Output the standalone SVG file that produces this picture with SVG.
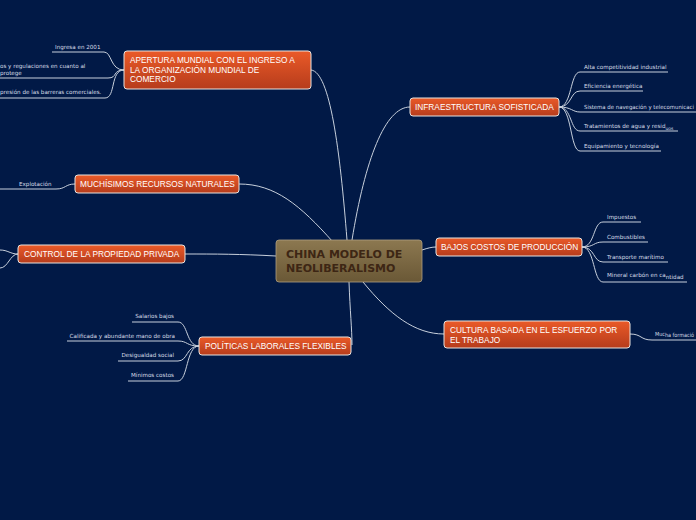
<svg xmlns="http://www.w3.org/2000/svg" width="696" height="520" viewBox="0 0 696 520">
<style>
.n rect{fill:url(#og);stroke:#e8e4e0;stroke-width:1}
.n text{font-family:"Liberation Sans",Arial,sans-serif;font-size:8.3px;fill:#ffffff}
.c path{fill:none;stroke:#c8d0dc;stroke-width:1}
.l{font-family:"DejaVu Sans",Verdana,sans-serif;font-size:5.6px;fill:#d8dee8}
.le{text-anchor:end}
</style>
<defs>
<linearGradient id="og" x1="0" y1="0" x2="0" y2="1"><stop offset="0" stop-color="#ea5a28"/><stop offset="1" stop-color="#b63c1c"/></linearGradient>
<linearGradient id="bg" x1="0" y1="0" x2="0" y2="1"><stop offset="0" stop-color="#8c7850"/><stop offset="1" stop-color="#6a5836"/></linearGradient>
</defs>
<rect width="696" height="520" fill="#011946"/>
<g class="c" id="connectors">
<path d="M347 240 C340 150 330 72 311 70"/>
<path d="M352 240 C365 160 385 107 410 107"/>
<path d="M333 242 C300 205 275 184 239 184"/>
<path d="M276 256 C240 254 215 254 185 254"/>
<path d="M422 250 C428 248 432 247 436 247"/>
<path d="M363 282 C390 315 415 334 444 334"/>
<path d="M349 282 C350 310 352 330 352 345"/>
<path d="M124 70 C110 70 112 52 104 52 L52 52"/>
<path d="M124 70 C112 70 118 78 108 78 L0 78"/>
<path d="M124 70 C110 70 116 98 105 98 L0 98"/>
<path d="M559 107 C572 107 570 72 580 72 L668 72"/>
<path d="M559 107 C572 107 570 91 580 91 L643 91"/>
<path d="M559 107 C572 107 572 112 580 112 L696 112"/>
<path d="M559 107 C572 107 570 131 580 131 L678 131"/>
<path d="M559 107 C572 107 570 151 580 151 L661 151"/>
<path d="M582 247 C595 247 593 222 603 222 L641 222"/>
<path d="M582 247 C595 247 593 242 603 242 L648 242"/>
<path d="M582 247 C595 247 593 262 603 262 L668 262"/>
<path d="M582 247 C595 247 593 282 603 282 L687 282"/>
<path d="M630 334 C642 334 640 340 652 340 L696 340"/>
<path d="M75 184 C65 184 66 189 56 189 L0 189"/>
<path d="M18 254 C10 254 8 250 0 250"/>
<path d="M18 254 C10 254 8 268 0 268"/>
<path d="M199 346 C186 346 188 322 178 322 L132 322"/>
<path d="M199 346 C186 346 188 341 178 341 L67 341"/>
<path d="M199 346 C186 346 188 361 178 361 L118 361"/>
<path d="M199 346 C186 346 188 381 178 381 L128 381"/>
</g>
<g id="center">
<rect x="276" y="240" width="146" height="42" rx="3" fill="url(#bg)" stroke="#b0a080" stroke-width="0.8"/>
<text x="286" y="258" font-family="'DejaVu Sans',Verdana,sans-serif" font-size="11" font-weight="bold" fill="#3d2614">CHINA MODELO DE</text>
<text x="286" y="272" font-family="'DejaVu Sans',Verdana,sans-serif" font-size="11" font-weight="bold" fill="#3d2614">NEOLIBERALISMO</text>
</g>
<g id="apertura" class="n"><rect x="124" y="51" width="187" height="38" rx="3"/>
<text x="130" y="63">APERTURA MUNDIAL CON EL INGRESO A</text>
<text x="130" y="73">LA ORGANIZACIÓN MUNDIAL DE</text>
<text x="130" y="82">COMERCIO</text></g>
<g id="infraestructura" class="n"><rect x="410" y="98" width="149" height="18" rx="3"/><text x="415" y="110">INFRAESTRUCTURA SOFISTICADA</text></g>
<g id="recursos" class="n"><rect x="75" y="175" width="164" height="18" rx="3"/><text x="80" y="187">MUCHÍSIMOS RECURSOS NATURALES</text></g>
<g id="control" class="n"><rect x="18" y="245" width="167" height="18" rx="3"/><text x="24" y="257">CONTROL DE LA PROPIEDAD PRIVADA</text></g>
<g id="bajos" class="n"><rect x="436" y="238" width="146" height="18" rx="3"/><text x="441" y="250">BAJOS COSTOS DE PRODUCCIÓN</text></g>
<g id="cultura" class="n"><rect x="444" y="321" width="186" height="27" rx="3"/><text x="450" y="333">CULTURA BASADA EN EL ESFUERZO POR</text><text x="450" y="343">EL TRABAJO</text></g>
<g id="politicas" class="n"><rect x="199" y="337" width="152" height="18" rx="3"/><text x="205" y="349">POLÍTICAS LABORALES FLEXIBLES</text></g>
<g id="leaves">
<text class="l" x="55" y="49">Ingresa en 2001</text>
<text class="l" x="0" y="68">os y regulaciones en cuanto al</text>
<text class="l" x="0" y="75">protege</text>
<text class="l" x="0" y="94">presión de las barreras comerciales.</text>
<text class="l" x="584" y="69">Alta competitividad industrial</text>
<text class="l" x="584" y="88">Eficiencia energética</text>
<text class="l" x="584" y="109" textLength="110" lengthAdjust="spacingAndGlyphs">Sistema de navegación y telecomunicaci</text>
<text class="l" x="584" y="128">Tratamientos de agua y resid<tspan font-size="4.5" dy="1.5">uos</tspan></text>
<text class="l" x="584" y="148">Equipamiento y tecnología</text>
<text class="l" x="607" y="219">Impuestos</text>
<text class="l" x="607" y="239">Combustibles</text>
<text class="l" x="607" y="259">Transporte marítimo</text>
<text class="l" x="607" y="277">Mineral carbón en ca<tspan dy="1.5">ntidad</tspan></text>
<text class="l" x="655" y="336" textLength="39" lengthAdjust="spacingAndGlyphs">Muc<tspan dy="1">ha formació</tspan></text>
<text class="l" x="19" y="186">Explotación</text>
<text class="l le" x="174" y="318">Salarios bajos</text>
<text class="l le" x="175" y="338">Calificada y abundante mano de obra</text>
<text class="l le" x="174" y="357">Desigualdad social</text>
<text class="l le" x="174" y="377">Mínimos costos</text>
</g>
</svg>
